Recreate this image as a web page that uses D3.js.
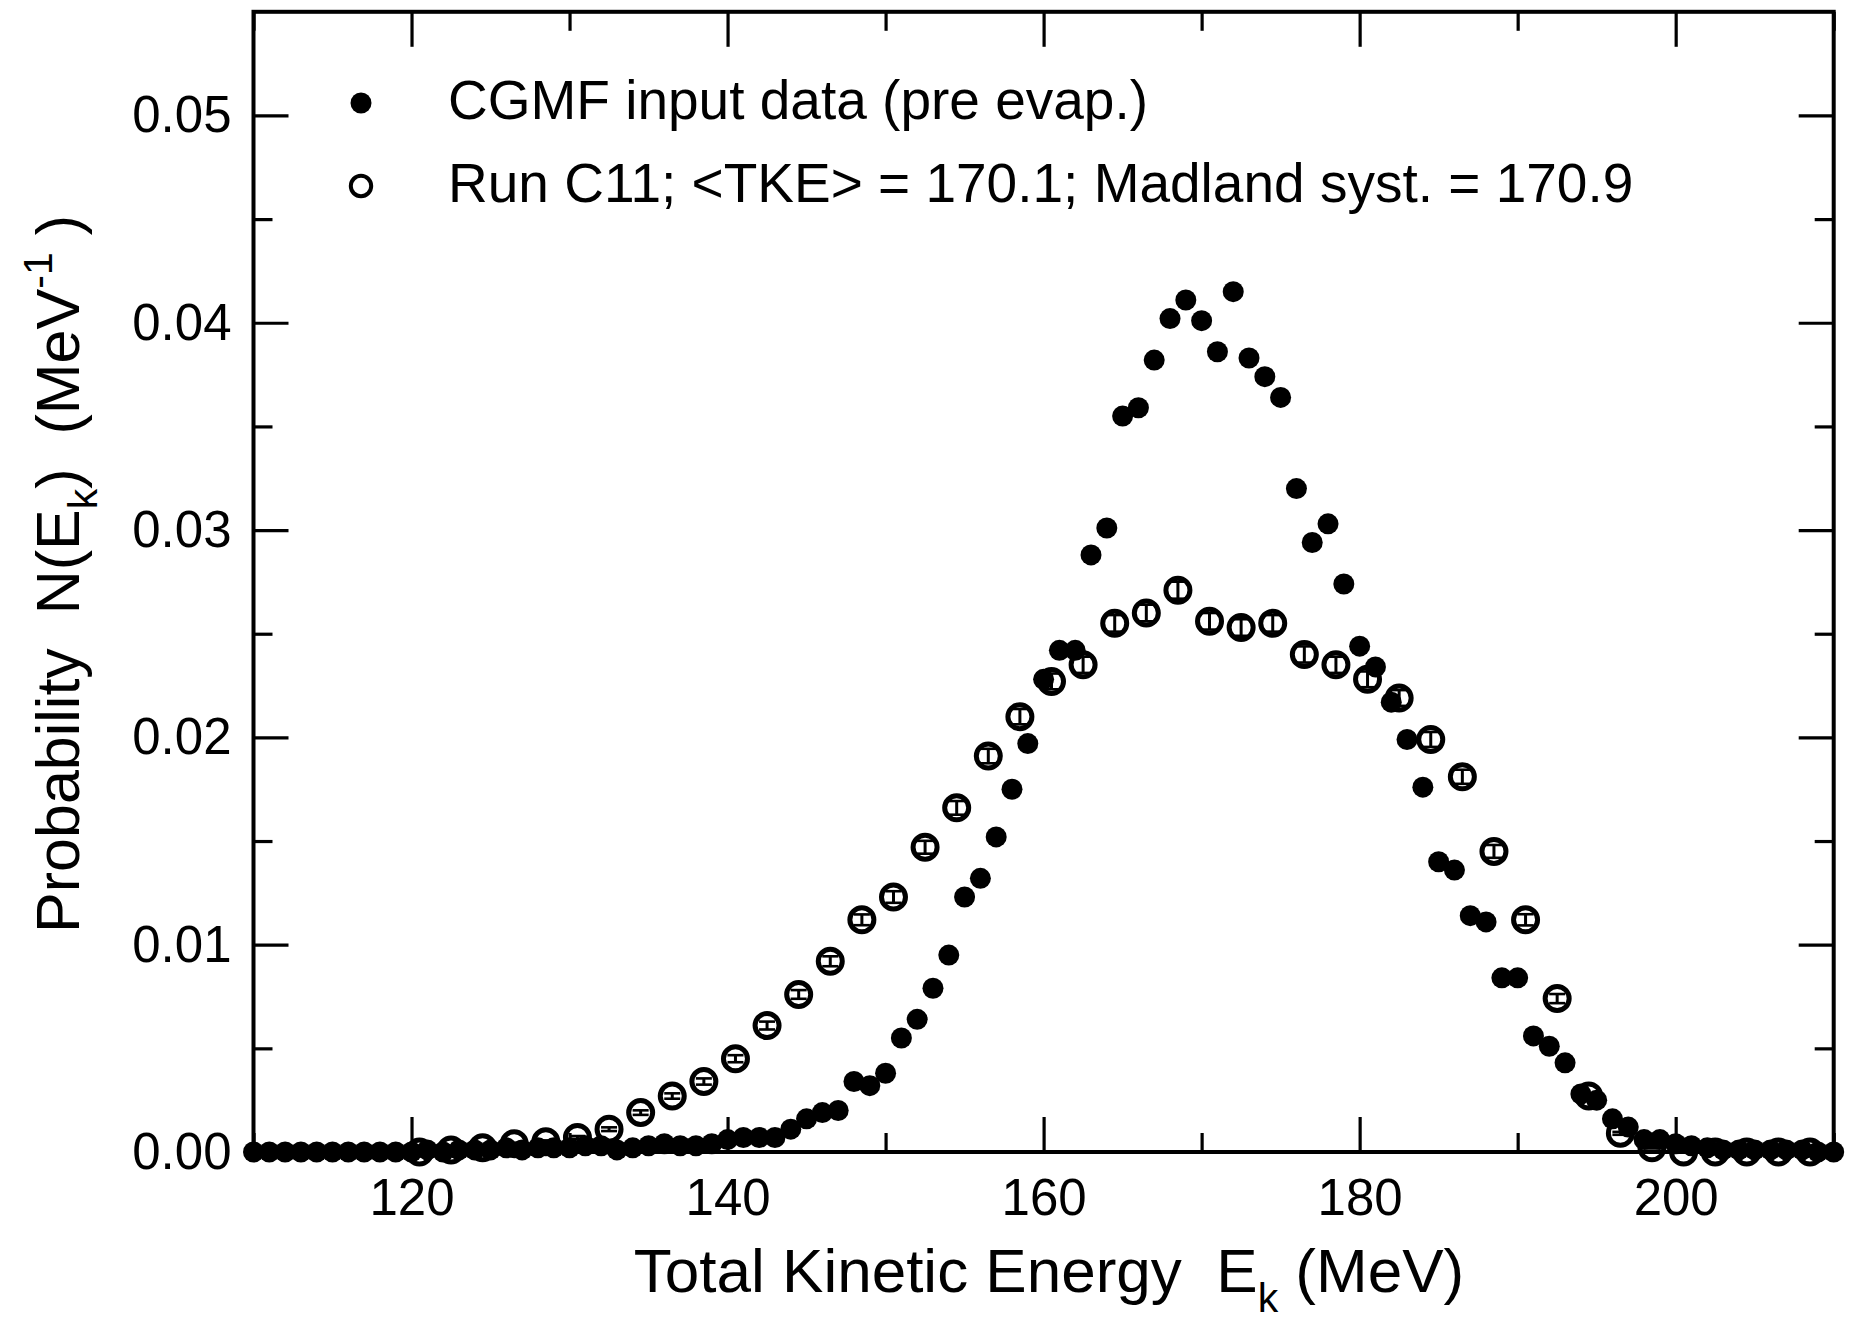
<!DOCTYPE html>
<html>
<head>
<meta charset="utf-8">
<script src="https://cdn.jsdelivr.net/npm/d3@7"></script>
<style>
  html, body { margin: 0; padding: 0; background: #fff; }
  svg { display: block; font-family: "Liberation Sans", Arial, Helvetica, sans-serif; }
</style>
</head>
<body>
<svg id="chart" width="1849" height="1320"></svg>
<script>
// ---- data ----
const filledE = [110,111,112,113,114,115,116,117,118,119,120,121,122,123,124,125,126,127,128,129,
  130,131,132,133,134,135,136,137,138,139,140,141,142,143,144,145,146,147,148,149,
  150,151,152,153,154,155,156,157,158,159,160,161,162,163,164,165,166,167,168,169,
  170,171,172,173,174,175,176,177,178,179,180,181,182,183,184,185,186,187,188,189,
  190,191,192,193,194,195,196,197,198,199,200,201,202,203,204,205,206,207,208,209,210];
const filledP = [0,0,0,0,0,0,0,0,0,0,
  0.0000,0.0001,0.0000,0.0001,0.0001,0.0001,0.0002,0.0001,0.0002,0.0002,
  0.0002,0.0003,0.0003,0.0001,0.0002,0.0003,0.0004,0.0003,0.0003,0.0004,
  0.0006,0.0007,0.0007,0.0007,0.0011,0.0016,0.0019,0.0020,0.0034,0.0032,
  0.0038,0.0055,0.0064,0.0079,0.0095,0.0123,0.0132,0.0152,0.0175,0.0197,
  0.0228,0.0242,0.0242,0.0288,0.0301,0.0355,0.0359,0.0382,0.0402,0.0411,
  0.0401,0.0386,0.0415,0.0383,0.0374,0.0364,0.0320,0.0294,0.0303,0.0274,
  0.0244,0.0234,0.0217,0.0199,0.0176,0.0140,0.0136,0.0114,0.0111,0.0084,
  0.0084,0.0056,0.0051,0.0043,0.0028,0.0025,0.0016,0.0012,0.0006,0.0006,
  0.0004,0.0003,0.0002,0.0001,0.0001,0.0001,0.0001,0.0001,0.0001,0.0000,0.0000];

const openE = [120.5,122.5,124.5,126.5,128.5,130.5,132.5,134.5,136.5,138.5,
  140.5,142.5,144.5,146.5,148.5,150.5,152.5,154.5,156.5,158.5,
  160.5,162.5,164.5,166.5,168.5,170.5,172.5,174.5,176.5,178.5,
  180.5,182.5,184.5,186.5,188.5,190.5,192.5,194.5,196.5,198.5,
  200.5,202.5,204.5,206.5,208.5];
const openP = [0.0000,0.0001,0.0002,0.0004,0.0005,0.0007,0.0011,0.0019,0.0027,0.0034,
  0.0045,0.0061,0.0076,0.0092,0.0112,0.0123,0.0147,0.0166,0.0191,0.0210,
  0.0227,0.0235,0.0255,0.0260,0.0271,0.0256,0.0253,0.0255,0.0240,0.0235,
  0.0228,0.0219,0.0199,0.0181,0.0145,0.0112,0.0074,0.0027,0.0009,0.0002,
  0.0000,0.0000,0.0000,0.0000,0.0000];
const openErr = [0.00002,0.00003,0.00004,0.00005,0.00006,0.00007,0.00009,0.00011,0.00013,0.00015,
  0.00017,0.00019,0.00021,0.00024,0.00026,0.00028,0.00031,0.00033,0.00035,0.00037,
  0.00038,0.00039,0.00040,0.00040,0.00041,0.00040,0.00040,0.00040,0.00039,0.00039,
  0.00038,0.00038,0.00036,0.00034,0.00031,0.00027,0.00022,0.00013,0.00007,0.00003,
  0.00001,0.00001,0.00001,0.00001,0.00001];

const xMajorTicks = [120,140,160,180,200];
const xMinorTicks = [110,130,150,170,190,210];
const yMajorTicks = [0,0.01,0.02,0.03,0.04,0.05];
const yMinorTicks = [0.005,0.015,0.025,0.035,0.045];
const yTickLabels = ["0.00","0.01","0.02","0.03","0.04","0.05"];

const legendLabels = ["CGMF input data (pre evap.)",
  "Run C11; <TKE> = 170.1; Madland syst. = 170.9"];

// ---- layout ----
const L = 253.5, R = 1833.7, T = 11.8, B = 1152;
const svg = d3.select("#chart");
const x = d3.scaleLinear().domain([110,210]).range([L,R]);
const y = d3.scaleLinear().domain([0,0.055]).range([B,T]);

const MAJ = 35, MIN = 19, TICKW = 3.2;

function styleAxis(g) {
  g.select(".domain").remove();
  g.selectAll(".tick line").attr("stroke","#000").attr("stroke-width",TICKW);
  g.selectAll(".tick text").attr("fill","#000").attr("font-size",51)
    .attr("font-family",'"Liberation Sans", Arial, sans-serif');
}

// bottom
svg.append("g").attr("transform",`translate(0,${B})`)
  .call(d3.axisBottom(x).tickValues(xMajorTicks).tickSize(-MAJ).tickPadding(27).tickFormat(d3.format("d")))
  .call(styleAxis);
svg.append("g").attr("transform",`translate(0,${B})`)
  .call(d3.axisBottom(x).tickValues(xMinorTicks).tickSize(-MIN).tickFormat(""))
  .call(styleAxis);
// top
svg.append("g").attr("transform",`translate(0,${T})`)
  .call(d3.axisTop(x).tickValues(xMajorTicks).tickSize(-MAJ).tickFormat(""))
  .call(styleAxis);
svg.append("g").attr("transform",`translate(0,${T})`)
  .call(d3.axisTop(x).tickValues(xMinorTicks).tickSize(-MIN).tickFormat(""))
  .call(styleAxis);
// left
svg.append("g").attr("transform",`translate(${L},0)`)
  .call(d3.axisLeft(y).tickValues(yMajorTicks).tickSize(-MAJ).tickPadding(22)
    .tickFormat((d,i)=>yTickLabels[i]))
  .call(styleAxis);
svg.append("g").attr("transform",`translate(${L},0)`)
  .call(d3.axisLeft(y).tickValues(yMinorTicks).tickSize(-MIN).tickFormat(""))
  .call(styleAxis);
// right
svg.append("g").attr("transform",`translate(${R},0)`)
  .call(d3.axisRight(y).tickValues(yMajorTicks).tickSize(-MAJ).tickFormat(""))
  .call(styleAxis);
svg.append("g").attr("transform",`translate(${R},0)`)
  .call(d3.axisRight(y).tickValues(yMinorTicks).tickSize(-MIN).tickFormat(""))
  .call(styleAxis);

// frame
svg.append("rect").attr("x",L).attr("y",T).attr("width",R-L).attr("height",B-T)
  .attr("fill","none").attr("stroke","#000").attr("stroke-width",4);

// ---- open points with error bars ----
const openData = openE.map((e,i)=>({e, p:openP[i], err:openErr[i]}));
const og = svg.append("g");
og.selectAll("circle").data(openData).join("circle")
  .attr("cx",d=>x(d.e)).attr("cy",d=>y(d.p)).attr("r",12)
  .attr("fill","none").attr("stroke","#000").attr("stroke-width",5);
const eb = og.selectAll("g.eb").data(openData).join("g").attr("class","eb");
eb.append("line").attr("x1",d=>x(d.e)).attr("x2",d=>x(d.e))
  .attr("y1",d=>y(d.p-d.err)).attr("y2",d=>y(d.p+d.err))
  .attr("stroke","#000").attr("stroke-width",3);
eb.append("line").attr("x1",d=>x(d.e)-8).attr("x2",d=>x(d.e)+8)
  .attr("y1",d=>y(d.p-d.err)).attr("y2",d=>y(d.p-d.err))
  .attr("stroke","#000").attr("stroke-width",2.6);
eb.append("line").attr("x1",d=>x(d.e)-8).attr("x2",d=>x(d.e)+8)
  .attr("y1",d=>y(d.p+d.err)).attr("y2",d=>y(d.p+d.err))
  .attr("stroke","#000").attr("stroke-width",2.6);

// ---- filled points ----
const filledData = filledE.map((e,i)=>({e, p:filledP[i]}));
svg.append("g").selectAll("circle").data(filledData).join("circle")
  .attr("cx",d=>x(d.e)).attr("cy",d=>y(d.p)).attr("r",10.5).attr("fill","#000");

// ---- legend ----
const lg = svg.append("g");
lg.append("circle").attr("cx",361).attr("cy",103).attr("r",10.5).attr("fill","#000");
lg.append("circle").attr("cx",361).attr("cy",186).attr("r",10.2)
  .attr("fill","none").attr("stroke","#000").attr("stroke-width",4);
lg.selectAll("text").data(legendLabels).join("text")
  .attr("x",448).attr("y",(d,i)=>119+i*83)
  .attr("font-size",55).attr("fill","#000").text(d=>d);

// ---- axis titles ----
const xt = svg.append("text").attr("x",1049).attr("y",1292)
  .attr("text-anchor","middle").attr("font-size",62).attr("fill","#000");
xt.append("tspan").text("Total Kinetic Energy\u00a0\u00a0E");
xt.append("tspan").attr("font-size",41).attr("dy",20).text("k");
xt.append("tspan").attr("dy",-20).text(" (MeV)");

const yt = svg.append("text").attr("transform","translate(79,574) rotate(-90)")
  .attr("text-anchor","middle").attr("font-size",61).attr("fill","#000");
yt.append("tspan").text("Probability\u00a0\u00a0N(E");
yt.append("tspan").attr("font-size",41).attr("dy",18).text("k");
yt.append("tspan").attr("dy",-18).text(")\u00a0\u00a0(MeV");
yt.append("tspan").attr("font-size",41).attr("dy",-27).text("-1");
yt.append("tspan").attr("dy",27).text("\u00a0)");
</script>
</body>
</html>
